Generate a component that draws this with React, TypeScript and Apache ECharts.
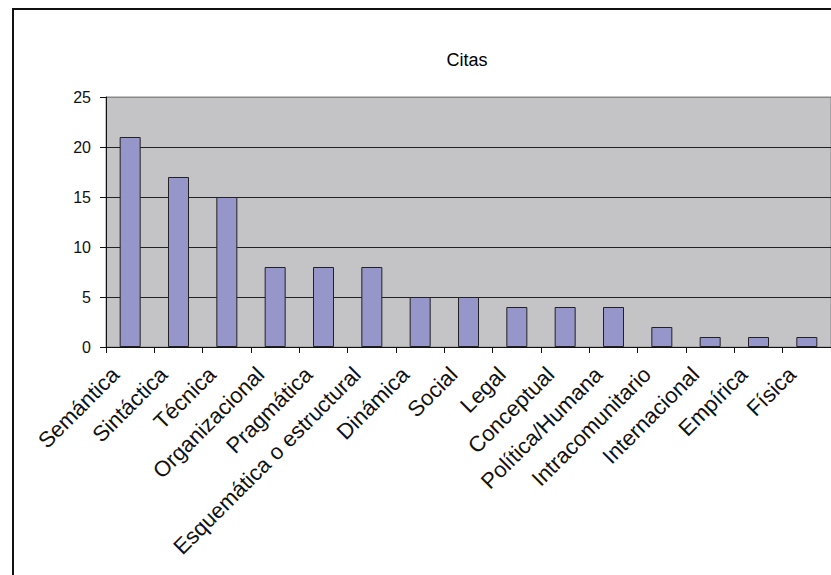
import React, { useEffect, useRef } from "react";
import * as echarts from "echarts";

const categories = [
  "Semántica",
  "Sintáctica",
  "Técnica",
  "Organizacional",
  "Pragmática",
  "Esquemática o estructural",
  "Dinámica",
  "Social",
  "Legal",
  "Conceptual",
  "Política/Humana",
  "Intracomunitario",
  "Internacional",
  "Empírica",
  "Física",
];
const citas = [21, 17, 15, 8, 8, 8, 5, 5, 4, 4, 4, 2, 1, 1, 1];
const yMin = 0;
const yMax = 25;
const yStep = 5;
const titleText = "Citas";

const FONT = "'Liberation Sans', Arial, sans-serif";

export default function App() {
  const ref = useRef<HTMLDivElement>(null);
  useEffect(() => {
    document.body.style.margin = "0";
    if (!ref.current) return;
    const chart = echarts.init(ref.current, undefined, { renderer: "svg" });
    chart.setOption({
      animation: false,
      backgroundColor: "#ffffff",
      title: {
        text: titleText,
        left: 462,
        top: 46,
        textAlign: "center",
        textStyle: { fontFamily: FONT, fontSize: 18, fontWeight: "normal", color: "#000" },
      },
      graphic: [
        {
          type: "rect",
          shape: { x: 13, y: 9, width: 900, height: 700 },
          style: { fill: "none", stroke: "#111", lineWidth: 2 },
          silent: true,
          z: 100,
        },
      ],
      grid: {
        left: 106,
        top: 97,
        width: 727,
        height: 250,
        show: true,
        backgroundColor: "#C4C4C6",
        borderColor: "#888",
        borderWidth: 1,
        containLabel: false,
      },
      xAxis: {
        type: "category",
        data: categories,
        boundaryGap: true,
        axisLine: { show: true, lineStyle: { color: "#111", width: 1 } },
        axisTick: { show: true, interval: 0, length: 6, inside: false, lineStyle: { color: "#111" } },
        axisLabel: {
          interval: 0,
          rotate: 45,
          margin: 9,
          padding: [0, 21, 0, 0],
          fontFamily: FONT,
          fontSize: 22,
          color: "#111",
        },
        splitLine: { show: false },
      },
      yAxis: {
        type: "value",
        min: yMin,
        max: yMax,
        interval: yStep,
        axisLine: { show: true, lineStyle: { color: "#111", width: 1 } },
        axisTick: { show: true, length: 6, lineStyle: { color: "#111" } },
        axisLabel: { margin: 15, fontFamily: FONT, fontSize: 16, color: "#111" },
        splitLine: {
          show: true,
          lineStyle: { color: ["#222", "#222", "#222", "#222", "#222", "#888"], width: 1 },
        },
      },
      series: [
        {
          type: "bar",
          data: citas,
          barWidth: 21,
          itemStyle: { color: "#9696CA", borderColor: "#222", borderWidth: 1 },
        },
      ],
    });
    return () => chart.dispose();
  }, []);
  return <div ref={ref} style={{ width: 831, height: 575 }} />;
}
